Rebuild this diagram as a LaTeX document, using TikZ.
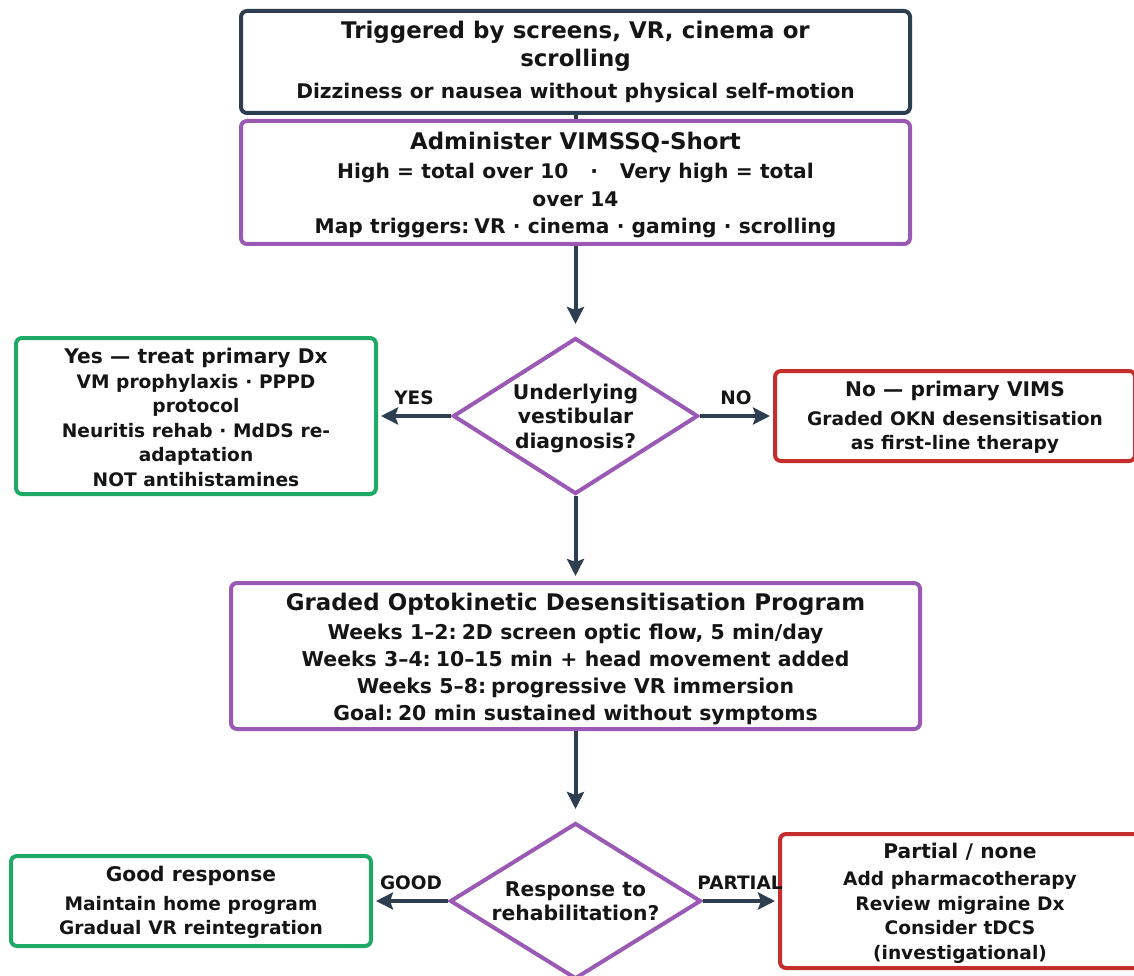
\documentclass[tikz,border=0pt]{standalone}
\usepackage{fontspec}
\setmainfont{DejaVu Sans}
\usetikzlibrary{shapes.geometric,arrows.meta}
\definecolor{slate}{HTML}{2C3E50}
\definecolor{purp}{HTML}{9B59B6}
\definecolor{grn}{HTML}{1EAA66}
\definecolor{rd}{HTML}{C62D2D}
\definecolor{ink}{HTML}{151515}
\newcommand\wsp{\spaceskip=0.36em plus 0pt minus 0pt\relax}
\newcommand\fTitle{\fontsize{22.9}{28}\selectfont\wsp}
\newcommand\fBody{\fontsize{20.2}{27.5}\selectfont\wsp}
\newcommand\fBig{\fontsize{20.4}{27}\selectfont\wsp}
\newcommand\fSTitle{\fontsize{20.2}{25}\selectfont\wsp}
\newcommand\fSBody{\fontsize{18.6}{24.6}\selectfont\wsp}
\newcommand\lowr{\par\vspace{-5pt}}
\tikzset{
  card/.style={draw, rounded corners=6pt, line width=4pt, fill=white, inner sep=0pt, align=center, text=ink, font=\bfseries},
  dmd/.style={diamond, draw=purp, line width=4pt, fill=white, inner sep=0pt},
  dtxt/.style={align=center, inner sep=0pt, text=ink, font=\bfseries\fontsize{20.3}{24.5}\selectfont\wsp},
  lbl/.style={inner sep=0pt, text=ink, font=\bfseries\fontsize{18.5}{22}\selectfont},
  flow/.style={draw=slate, line width=4pt, -{Stealth[length=17pt,width=17pt,inset=3pt]}},
}
\begin{document}
\begin{tikzpicture}[x=1pt,y=-1pt]
\useasboundingbox (0,0) rectangle (1134,976);
\clip (0,0) rectangle (1134,976);
\fill[white] (0,0) rectangle (1134,976);

\node[card, draw=slate, minimum width=669, minimum height=102, text width=650] (trig) at (575.5,62)
  {\fTitle Triggered by screens, VR, cinema or\\ scrolling\par\vspace{5pt}\fBody Dizziness or nausea without physical self-motion\par};
\node[card, draw=purp, minimum width=669, minimum height=123, text width=650] (vims) at (575.5,182.5)
  {\fTitle Administer VIMSSQ-Short\par\vspace{2pt}\fBody High = total over 10 \ \ · \ \ Very high = total\\ over 14\\ Map triggers: VR · cinema · gaming · scrolling\lowr};
\draw[slate, line width=4pt] (trig.south) -- (vims.north);

\node[dmd, minimum width=245, minimum height=156] (d1) at (575.5,416) {};
\node[dtxt, yshift=-2pt] (d1t) at (d1.center) {Underlying\\ vestibular\\ diagnosis?};

\node[card, draw=grn, minimum width=360, minimum height=156, text width=350] (yes) at (196,416)
  {\fSTitle Yes — treat primary Dx\par\fSBody VM prophylaxis · PPPD\\ protocol\\ Neuritis rehab · MdDS re-\\ adaptation\\ NOT antihistamines\par\vspace{-3pt}};
\node[card, draw=rd, minimum width=360, minimum height=90, text width=350] (no) at (955,416)
  {\fSTitle No — primary VIMS\par\vspace{4pt}\fSBody Graded OKN desensitisation\\ as first-line therapy\par\vspace{-3pt}};

\node[card, draw=purp, minimum width=689, minimum height=146, text width=670] (prog) at (575.5,656)
  {\fTitle Graded Optokinetic Desensitisation Program\par\vspace{2pt}\fBig Weeks 1–2: 2D screen optic flow, 5 min/day\\ Weeks 3–4: 10–15 min + head movement added\\ Weeks 5–8: progressive VR immersion\\ Goal: 20 min sustained without symptoms\lowr};

\node[dmd, minimum width=251, minimum height=156] (d2) at (575.5,901) {};
\node[dtxt] (d2t) at (d2.center) {Response to\\ rehabilitation?};

\node[card, draw=grn, minimum width=360, minimum height=90, text width=350] (good) at (191,901)
  {\fSTitle Good response\par\vspace{4pt}\fSBody Maintain home program\\ Gradual VR reintegration\par\vspace{-3pt}};
\node[card, draw=rd, minimum width=360, minimum height=134, text width=350] (part) at (960,901)
  {\fSTitle Partial / none\par\vspace{2pt}\fSBody Add pharmacotherapy\\ Review migraine Dx\\ Consider tDCS\\ (investigational)\lowr};

\draw[flow, shorten >=12pt] (vims.south) -- (d1.north);
\draw[flow, shorten >=3pt] (d1.west) -- (yes.east);
\draw[flow, shorten >=3pt] (d1.east) -- (no.west);
\draw[flow, shorten >=5pt] (d1.south) -- (prog.north);
\draw[flow, shorten >=12pt] (prog.south) -- (d2.north);
\draw[flow, shorten >=3pt] (d2.west) -- (good.east);
\draw[flow, shorten >=3pt] (d2.east) -- (part.west);

\node[lbl] (lyes) at (414,398) {YES};
\node[lbl] (lno) at (736,398) {NO};
\node[lbl] (lgood) at (411,883) {GOOD};
\node[lbl] (lpart) at (740,883) {PARTIAL};
\end{tikzpicture}
\end{document}
